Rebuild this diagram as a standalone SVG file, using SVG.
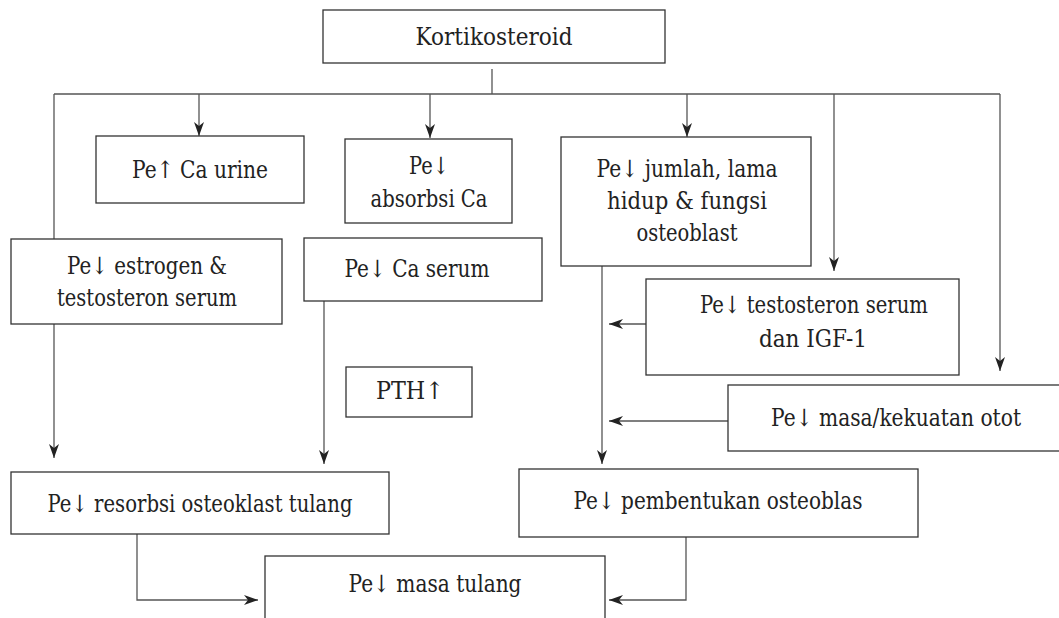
<svg xmlns="http://www.w3.org/2000/svg" width="1059" height="618" viewBox="0 0 1059 618">
<defs>
<style>
.box{fill:#fff;stroke:#333;stroke-width:1.3}
.t{font-family:"DejaVu Serif","Liberation Serif",serif;font-size:24px;fill:#222;text-anchor:middle}
.c{fill:none;stroke:#555;stroke-width:1.3}
</style>
<marker id="ah" viewBox="0 0 14 10" refX="14" refY="5" markerWidth="14" markerHeight="10" markerUnits="userSpaceOnUse" orient="auto">
<path d="M0,0 L14,5 L0,10 L4,5 Z" fill="#222"/>
</marker>
</defs>
<rect width="1059" height="618" fill="#fff"/>
<g id="connectors">
<path class="c" d="M492,69 V94"/>
<path class="c" d="M54,94 H1000"/>
<path class="c" d="M54,94 V239"/>
<path class="c" d="M199,94 V136" marker-end="url(#ah)"/>
<path class="c" d="M430,94 V138" marker-end="url(#ah)"/>
<path class="c" d="M687,94 V137" marker-end="url(#ah)"/>
<path class="c" d="M834,94 V271" marker-end="url(#ah)"/>
<path class="c" d="M1000,94 V371" marker-end="url(#ah)"/>
<path class="c" d="M54,324 V458" marker-end="url(#ah)"/>
<path class="c" d="M324,301 V464" marker-end="url(#ah)"/>
<path class="c" d="M602,266 V464" marker-end="url(#ah)"/>
<path class="c" d="M646,324 H609" marker-end="url(#ah)"/>
<path class="c" d="M728,421 H609" marker-end="url(#ah)"/>
<path class="c" d="M137,534 V600 H258" marker-end="url(#ah)"/>
<path class="c" d="M686,536 V600 H609" marker-end="url(#ah)"/>
</g>
<g id="kortikosteroid">
<rect class="box" x="323" y="10" width="342" height="53"/>
<text class="t" x="494" y="45" textLength="157" lengthAdjust="spacingAndGlyphs">Kortikosteroid</text>
</g>
<g id="ca-urine">
<rect class="box" x="96" y="136" width="208" height="67"/>
<text class="t" x="200" y="178" textLength="136" lengthAdjust="spacingAndGlyphs">Pe↑ Ca urine</text>
</g>
<g id="absorbsi">
<rect class="box" x="345" y="139" width="167" height="84"/>
<text class="t" x="429" y="174" textLength="40" lengthAdjust="spacingAndGlyphs">Pe↓</text>
<text class="t" x="429" y="207" textLength="117" lengthAdjust="spacingAndGlyphs">absorbsi Ca</text>
</g>
<g id="estrogen">
<rect class="box" x="11" y="239" width="271" height="85"/>
<text class="t" x="147" y="274" textLength="160" lengthAdjust="spacingAndGlyphs">Pe↓ estrogen &amp;</text>
<text class="t" x="147" y="306" textLength="180" lengthAdjust="spacingAndGlyphs">testosteron serum</text>
</g>
<g id="ca-serum">
<rect class="box" x="304" y="238" width="238" height="63"/>
<text class="t" x="417" y="277" textLength="145" lengthAdjust="spacingAndGlyphs">Pe↓ Ca serum</text>
</g>
<g id="osteoblast">
<rect class="box" x="561" y="137" width="250" height="129"/>
<text class="t" x="687" y="177" textLength="181" lengthAdjust="spacingAndGlyphs">Pe↓ jumlah, lama</text>
<text class="t" x="687" y="209" textLength="160" lengthAdjust="spacingAndGlyphs">hidup &amp; fungsi</text>
<text class="t" x="687" y="241" textLength="101" lengthAdjust="spacingAndGlyphs">osteoblast</text>
</g>
<g id="testosteron-igf">
<rect class="box" x="646" y="279" width="313" height="96"/>
<text class="t" x="814" y="313" textLength="228" lengthAdjust="spacingAndGlyphs">Pe↓ testosteron serum</text>
<text class="t" x="813" y="347" textLength="108" lengthAdjust="spacingAndGlyphs">dan IGF-1</text>
</g>
<g id="pth">
<rect class="box" x="346" y="367" width="126" height="50"/>
<text class="t" x="410" y="399" textLength="68" lengthAdjust="spacingAndGlyphs">PTH↑</text>
</g>
<g id="otot">
<rect class="box" x="728" y="385" width="332" height="66"/>
<text class="t" x="896" y="426" textLength="250" lengthAdjust="spacingAndGlyphs">Pe↓ masa/kekuatan otot</text>
</g>
<g id="resorbsi">
<rect class="box" x="11" y="472" width="378" height="62"/>
<text class="t" x="200" y="512" textLength="305" lengthAdjust="spacingAndGlyphs">Pe↓ resorbsi osteoklast tulang</text>
</g>
<g id="pembentukan">
<rect class="box" x="519" y="469" width="399" height="68"/>
<text class="t" x="718" y="509" textLength="289" lengthAdjust="spacingAndGlyphs">Pe↓ pembentukan osteoblas</text>
</g>
<g id="masa-tulang">
<rect class="box" x="265" y="556" width="340" height="63"/>
<text class="t" x="435" y="592" textLength="173" lengthAdjust="spacingAndGlyphs">Pe↓ masa tulang</text>
</g>
</svg>
